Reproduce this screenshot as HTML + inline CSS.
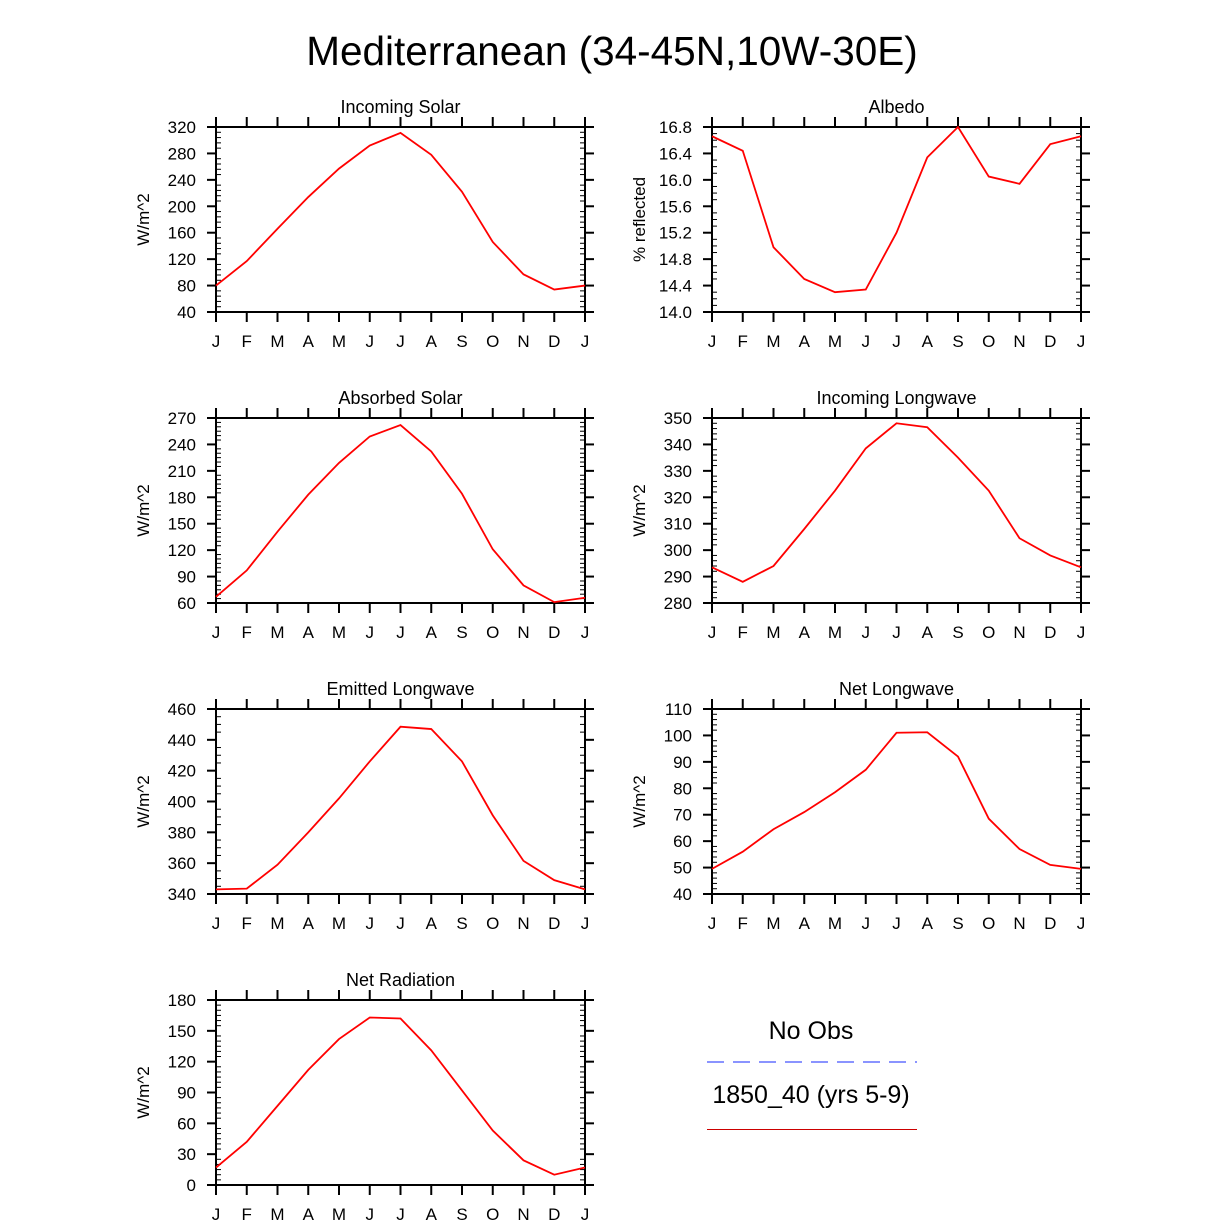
<!DOCTYPE html>
<html><head><meta charset="utf-8"><style>
body{margin:0;background:#fff;}
svg{display:block;font-family:"Liberation Sans",sans-serif;}
</style></head><body>
<svg id="c" width="1224" height="1222">
<text x="612" y="65" font-size="40.5" text-anchor="middle">Mediterranean (34-45N,10W-30E)</text>
<g>
<text x="811" y="1039" font-size="25" text-anchor="middle">No Obs</text>
<line x1="707" y1="1062" x2="917" y2="1062" stroke="#4455ff" stroke-width="1.2" stroke-dasharray="17,9"/>
<text x="811" y="1103" font-size="25" text-anchor="middle">1850_40 (yrs 5-9)</text>
<line x1="707" y1="1129.5" x2="917" y2="1129.5" stroke="#c00" stroke-width="1"/>
</g>
</svg>
<script>
const months = ["J","F","M","A","M","J","J","A","S","O","N","D","J"];
const incomingSolar = [80,117,166,214,257,292,311,278,222,146,97,74,80];
const albedo = [16.66,16.44,14.98,14.50,14.30,14.34,15.20,16.34,16.80,16.05,15.94,16.54,16.66];
const absorbedSolar = [67,97,141,183,219,249,262,232,184,121,80,61,66];
const incomingLongwave = [293.5,288,294,308,322.5,338.5,348,346.5,335,322.5,304.5,298,293.5];
const emittedLongwave = [343,343.5,359,380,402,426,448.5,447,426,391,361.5,349,343];
const netLongwave = [49.5,56,64.5,71,78.5,87,101,101.2,92,68.5,57,51,49.5];
const netRadiation = [17,42,77,112,142,163,162,131,92,53,24,10,17];
const incomingSolarTicks = [40,80,120,160,200,240,280,320];
const albedoTicks = [14.0,14.4,14.8,15.2,15.6,16.0,16.4,16.8];
const absorbedTicks = [60,90,120,150,180,210,240,270];
const incomingLwTicks = [280,290,300,310,320,330,340,350];
const emittedLwTicks = [340,360,380,400,420,440,460];
const netLwTicks = [40,50,60,70,80,90,100,110];
const netRadTicks = [0,30,60,90,120,150,180];

const svg=document.getElementById('c');
const NS="http://www.w3.org/2000/svg";
function mk(tag,attrs,parent){const e=document.createElementNS(NS,tag);for(const k in attrs)e.setAttribute(k,attrs[k]);parent.appendChild(e);return e;}

function panel(name,title,ylab,x0,y0,data,ticks,fmt,minors){
  const w=369,h=185;
  const g=mk('g',{},svg);
  
  
  const lo=ticks[0],hi=ticks[ticks.length-1];
  const xs=i=>x0+i*w/12;
  const ys=v=>y0+h-(v-lo)/(hi-lo)*h;
  const t=mk('text',{x:x0+w/2,y:y0-14,'font-size':18,'text-anchor':'middle'},g);
  t.textContent=title;
  
  
  const yl=mk('text',{x:0,y:0,'font-size':17,'text-anchor':'middle',transform:`translate(${x0-67},${y0+h/2}) rotate(-90)`},g);
  yl.textContent=ylab;
  
  
  mk('rect',{x:x0,y:y0,width:w,height:h,fill:'none',stroke:'#000','stroke-width':2},g);
  months.forEach((m,i)=>{
    const x=xs(i);
    mk('line',{x1:x,y1:y0,x2:x,y2:y0-10,stroke:'#000','stroke-width':2},g);
    mk('line',{x1:x,y1:y0+h,x2:x,y2:y0+h+10,stroke:'#000','stroke-width':2},g);
    const l=mk('text',{x:x,y:y0+h+35,'font-size':17,'text-anchor':'middle'},g);
    l.textContent=m;
    
    
  });
  ticks.forEach((v,i)=>{
    const y=ys(v);
    mk('line',{x1:x0-9,y1:y,x2:x0,y2:y,stroke:'#000','stroke-width':2},g);
    mk('line',{x1:x0+w,y1:y,x2:x0+w+9,y2:y,stroke:'#000','stroke-width':2},g);
    const l=mk('text',{x:x0-20,y:y+6,'font-size':17,'text-anchor':'end'},g);
    l.textContent=fmt(v);
    
    
    if(i<ticks.length-1){
      for(let k=1;k<minors;k++){
        const ym=ys(v+(ticks[i+1]-v)*k/minors);
        mk('line',{x1:x0,y1:ym,x2:x0+5,y2:ym,stroke:'#000','stroke-width':1},g);
        mk('line',{x1:x0+w-5,y1:ym,x2:x0+w,y2:ym,stroke:'#000','stroke-width':1},g);
      }
    }
  });
  const p=mk('polyline',{points:data.map((v,i)=>xs(i)+','+ys(v)).join(' '),fill:'none',stroke:'#f00','stroke-width':1.8},g);
  
  
}
const f0=v=>String(v), f1=v=>v.toFixed(1);
panel('incoming-solar','Incoming Solar','W/m^2',216,127,incomingSolar,incomingSolarTicks,f0,5);
panel('albedo','Albedo','% reflected',712,127,albedo,albedoTicks,f1,4);
panel('absorbed-solar','Absorbed Solar','W/m^2',216,418,absorbedSolar,absorbedTicks,f0,6);
panel('incoming-longwave','Incoming Longwave','W/m^2',712,418,incomingLongwave,incomingLwTicks,f0,5);
panel('emitted-longwave','Emitted Longwave','W/m^2',216,709,emittedLongwave,emittedLwTicks,f0,4);
panel('net-longwave','Net Longwave','W/m^2',712,709,netLongwave,netLwTicks,f0,5);
panel('net-radiation','Net Radiation','W/m^2',216,1000,netRadiation,netRadTicks,f0,6);
</script>
</body></html>
